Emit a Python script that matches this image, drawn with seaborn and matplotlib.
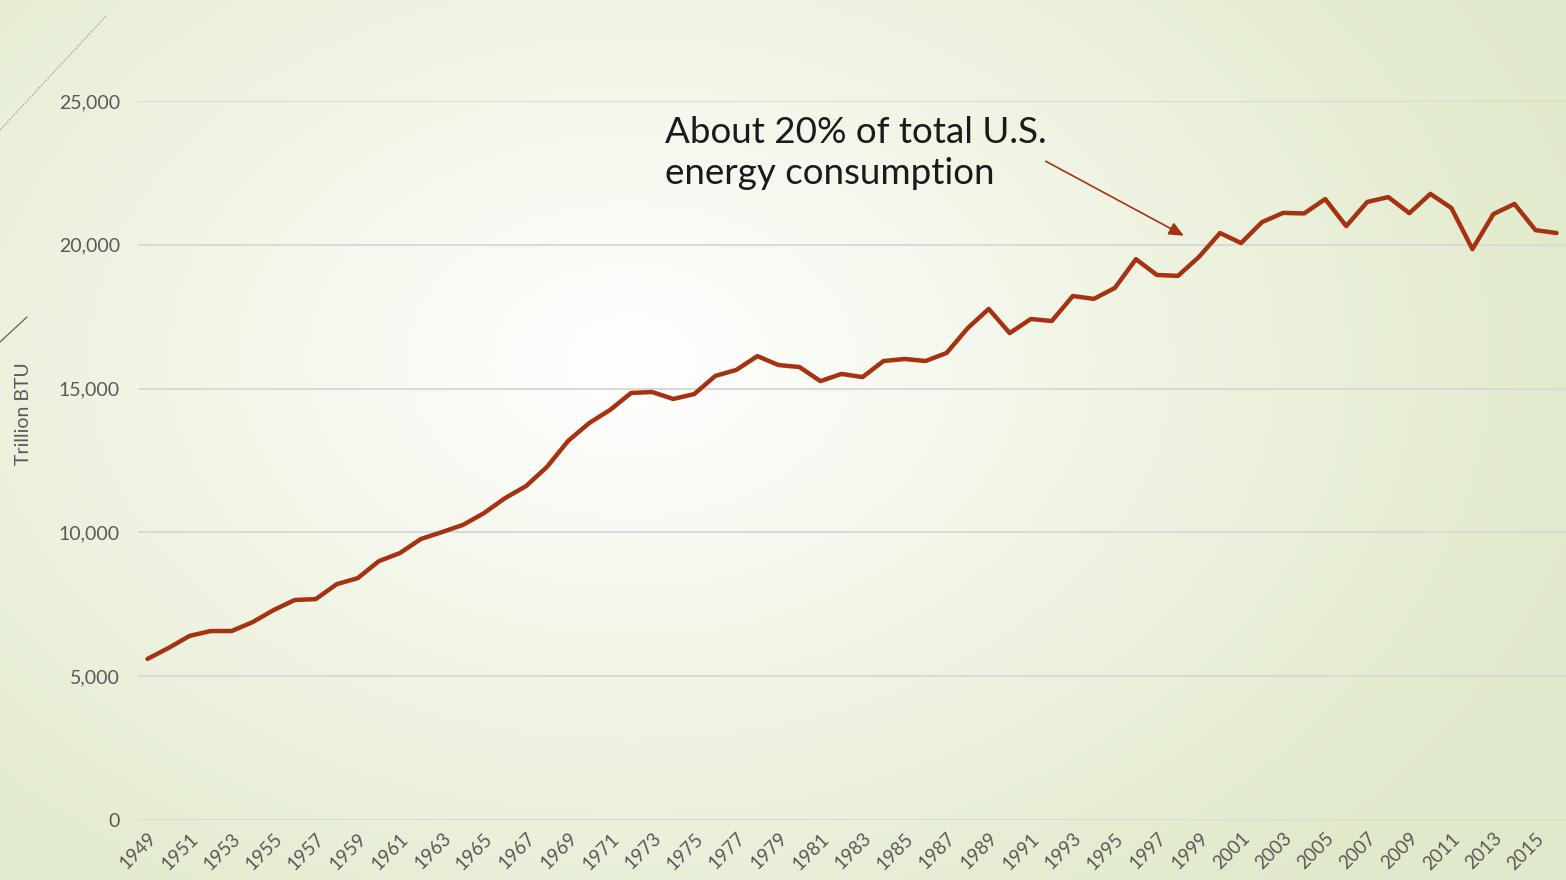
import numpy as np
import pandas as pd
import seaborn as sns
import matplotlib.pyplot as plt
from matplotlib.lines import Line2D

# data
years = list(range(1949, 2017))
consumption = [
    5600, 5980, 6400, 6570, 6570, 6880, 7300, 7650, 7680, 8200,
    8410, 9000, 9280, 9770, 10010, 10260, 10670, 11190, 11610, 12280,
    13180, 13800, 14260, 14850, 14880, 14640, 14810, 15440, 15650, 16130,
    15820, 15750, 15260, 15510, 15400, 15960, 16030, 15960, 16240, 17100,
    17770, 16930, 17420, 17350, 18220, 18120, 18500, 19500, 18950, 18920,
    19580, 20410, 20060, 20790, 21110, 21090, 21590, 20650, 21490, 21660,
    21100, 21770, 21280, 19850, 21070, 21420, 20510, 20410,
]
tick_years = list(range(1949, 2016, 2))
y_ticks = [0, 5000, 10000, 15000, 20000, 25000]
note = "About 20% of total U.S.\nenergy consumption"

df = pd.DataFrame({"year": years, "btu": consumption})

sns.set_style("white")
plt.rcParams["font.family"] = ["Lato", "DejaVu Sans"]

W, H = 1566, 880
fig = plt.figure(figsize=(W / 100, H / 100), dpi=100)

# slide background: radial gradient, white centre, pale green edges
bg = fig.add_axes([0, 0, 1, 1], zorder=-10)
yy, xx = np.mgrid[0:H, 0:W]
r = np.sqrt(((xx - 630) / 1000.0) ** 2 + ((yy - 360) / 700.0) ** 2)
r = np.clip(r, 0, 1)[..., None]
centre = np.array([1.0, 1.0, 1.0])
edge = np.array([0.88, 0.915, 0.79])
img = centre * (1 - r) + edge * r
bg.imshow(img, aspect="auto", extent=[0, W, H, 0])
bg.axis("off")

# decorative slide lines (top left)
fig.add_artist(Line2D([0, 107 / W], [1 - 130 / H, 1 - 15 / H], transform=fig.transFigure,
                      color="#b0ae98", lw=0.8, ls=(0, (2, 1))))
fig.add_artist(Line2D([0, 27 / W], [1 - 342 / H, 1 - 317 / H], transform=fig.transFigure,
                      color="#6e5a48", lw=0.9))

ax = fig.add_axes([138 / W, 1 - 820 / H, 1 - 138 / W, (820 - 101) / H])
ax.patch.set_alpha(0)

sns.lineplot(data=df, x="year", y="btu", ax=ax, color="#A53211", lw=3.2)

ax.set_xlim(1948.55, 2016.45)
ax.set_ylim(0, 25000)
ax.set_yticks(y_ticks)
ax.set_yticklabels([f"{v:,}" for v in y_ticks], fontsize=14, color="#595959")
ax.set_xticks(tick_years)
ax.set_xticklabels([str(y) for y in tick_years], rotation=45, ha="right",
                   rotation_mode="anchor", fontsize=13.5, color="#595959")
ax.tick_params(axis="both", length=0)
ax.tick_params(axis="y", pad=13)
ax.tick_params(axis="x", pad=7)
ax.grid(axis="y", color="#d9d9d9", lw=1.4)
ax.set_axisbelow(True)
for s in ax.spines.values():
    s.set_visible(False)
ax.set_xlabel("")
ax.set_ylabel("Trillion BTU", fontsize=14, color="#595959")
ax.yaxis.set_label_coords(-0.074, 0.565)

ax.text(1973.6, 24480, note, fontsize=26.5, color="#1a1a1a", va="top", ha="left",
        linespacing=1.3)
ax.annotate("", xy=(1998.4, 20270), xytext=(1991.6, 22950),
            arrowprops=dict(arrowstyle="-|>,head_length=0.9,head_width=0.4",
                            color="#A53211", lw=1.2))

fig.savefig("out.png", dpi=100)
